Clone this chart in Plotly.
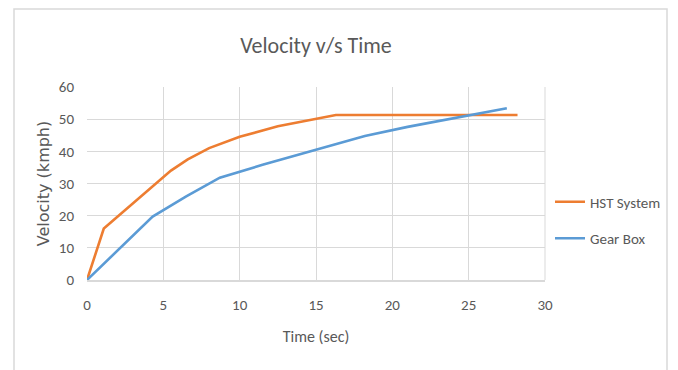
import plotly.graph_objects as go

hst_time = [0, 1.1, 5.5, 6.6, 8.0, 10.0, 12.5, 16.3, 28.2]
hst_vel = [0, 16.0, 34.0, 37.5, 41.0, 44.5, 47.8, 51.3, 51.3]

gear_time = [0, 1.9, 2.7, 4.3, 6.5, 8.7, 11.5, 18.2, 21.0, 25.0, 27.5]
gear_vel = [0, 8.7, 12.3, 19.7, 26.0, 31.8, 35.8, 44.8, 47.6, 51.2, 53.4]

x_ticks = [0, 5, 10, 15, 20, 25, 30]
y_ticks = [0, 10, 20, 30, 40, 50, 60]

FONT = "Carlito, 'Liberation Sans Narrow', 'Open Sans', sans-serif"

fig = go.Figure()
fig.add_trace(go.Scatter(x=hst_time, y=hst_vel, mode="lines", name="HST System",
                         legendgroup="a",
                         line=dict(color="#ED7D31", width=2.6)))
fig.add_trace(go.Scatter(x=gear_time, y=gear_vel, mode="lines", name="Gear Box",
                         legendgroup="b",
                         line=dict(color="#5B9BD5", width=2.6)))

L, R, T, B = 87, 133, 87, 90
W, H = 678, 370
pw, ph = W - L - R, H - T - B

fig.update_layout(
    width=W, height=H,
    margin=dict(l=L, r=R, t=T, b=B),
    paper_bgcolor="white", plot_bgcolor="white",
    font=dict(family=FONT, color="#595959", size=15),
    title=dict(text="Velocity v/s Time", x=0.5, xref="paper", y=1 - 45 / H, yanchor="middle",
               font=dict(size=22, color="#595959", family=FONT)),
    xaxis=dict(range=[0, 30], tickvals=x_ticks, showgrid=True, gridcolor="#d9d9d9", gridwidth=1,
               zeroline=False, showline=True, linecolor="#d9d9d9", linewidth=1.5,
               ticks="", ticklabelstandoff=10,
               tickfont=dict(size=15, color="#595959"),
               title=dict(text="Time (sec)", font=dict(size=16, color="#595959"), standoff=18)),
    yaxis=dict(range=[0, 60], tickvals=y_ticks, showgrid=True, gridcolor="#d9d9d9", gridwidth=1,
               zeroline=False, showline=False, ticks="", ticklabelstandoff=12,
               tickfont=dict(size=15, color="#595959"),
               title=dict(text="Velocity (kmph)",
                          font=dict(size=16, color="#595959", family="'DejaVu Sans', sans-serif"),
                          standoff=5)),
    legend=dict(x=(550 - L) / pw, y=(H - B - 220) / ph, xanchor="left", yanchor="middle",
                font=dict(size=15, color="#595959"), tracegroupgap=14, itemwidth=30,
                traceorder="grouped", bgcolor="rgba(0,0,0,0)"),
    showlegend=True,
)
fig.add_shape(type="rect", xref="paper", yref="paper",
              x0=(14 - L) / pw, x1=(667 - L) / pw,
              y0=(H - B - 380) / ph, y1=(H - B - 9) / ph,
              line=dict(color="#d9d9d9", width=1.5), fillcolor="rgba(0,0,0,0)", layer="below")
fig.add_shape(type="line", xref="paper", yref="paper", x0=1, x1=1, y0=0, y1=1,
              line=dict(color="#d9d9d9", width=1))

fig.write_html("out.html")
